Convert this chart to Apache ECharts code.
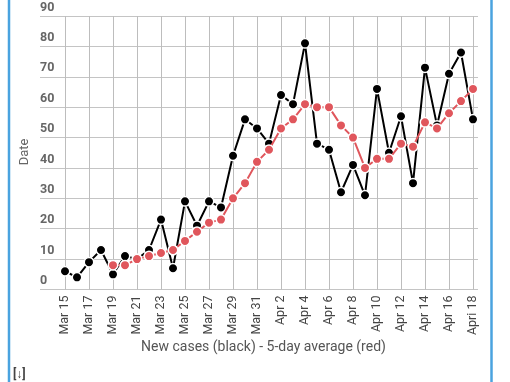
<!DOCTYPE html>
<html>
<head>
<meta charset="utf-8">
<script src="https://cdn.jsdelivr.net/npm/echarts@6/dist/echarts.min.js"></script>
<style>
html,body{margin:0;padding:0;background:#fff;}
#c{width:510px;height:382px;}
</style>
</head>
<body>
<div id="c"></div>
<script>
var dates = ["Mar 15","Mar 16","Mar 17","Mar 18","Mar 19","Mar 20","Mar 21","Mar 22","Mar 23","Mar 24",
  "Mar 25","Mar 26","Mar 27","Mar 28","Mar 29","Mar 30","Mar 31","Apr 1","Apr 2","Apr 3",
  "Apr 4","Apr 5","Apr 6","Apr 7","Apr 8","Apr 9","Apr 10","Apr 11","Apr 12","Apr 13",
  "Apr 14","Apr 15","Apr 16","Apr 17","Apri 18"];
var newCases = [6,4,9,13,5,11,10,13,23,7,
  29,21,29,27,44,56,53,48,64,61,
  81,48,46,32,41,31,66,45,57,35,
  73,54,71,78,56];
var avg5 = [null,null,null,null,8,8,10,11,12,13,
  16,19,22,23,30,35,42,46,53,56,
  61,60,60,54,50,40,43,43,48,47,
  55,53,58,62,66];
var yTicks = [0,10,20,30,40,50,60,70,80,90];
var xTitle = "New cases (black) - 5-day average (red)";
var yTitle = "Date";

var chart = echarts.init(document.getElementById('c'), null, {renderer:'canvas'});
var font = 'Roboto, "Noto Sans", sans-serif';
var option = {
  animation: false,
  backgroundColor: '#fff',
  grid: [
    {left: 40, right: 32, top: 16, bottom: 92.5},
    {left: 65, right: 37, top: 16, bottom: 92.5}
  ],
  xAxis: [
    {gridIndex: 0, type: 'value', min: 0, max: 1, show: false},
    {gridIndex: 1, type: 'category', data: dates, boundaryGap: false,
     axisLine: {show: false}, axisTick: {show: false},
     splitLine: {show: true, interval: 1, lineStyle: {color: '#bdbdbd', width: 1}},
     axisLabel: {interval: 1, rotate: 90, margin: 6, color: '#444', fontSize: 12.5, fontFamily: font}
    }
  ],
  yAxis: [
    {gridIndex: 0, type: 'value', min: 0, max: 90, interval: 10,
     axisLine: {show: false}, axisTick: {show: false},
     splitLine: {show: true, lineStyle: {color: '#c4c4c4', width: 1}},
     axisLabel: {inside: true, margin: 0, verticalAlign: 'bottom', padding: [0,0,2,0],
       color: '#666', fontWeight: 'bold', fontSize: 12.5, fontFamily: font,
       formatter: function(v){ return yTicks.indexOf(v) >= 0 ? String(v) : ''; }}
    },
    {gridIndex: 1, type: 'value', min: 0, max: 90, interval: 10, show: false}
  ],
  graphic: [
    {type: 'line', shape: {x1: 9, y1: 0, x2: 9, y2: 382}, style: {stroke: '#4aa3df', lineWidth: 2.5}},
    {type: 'line', shape: {x1: 491.5, y1: 0, x2: 491.5, y2: 382}, style: {stroke: '#4aa3df', lineWidth: 2.5}},
    {type: 'text', x: 263.5, y: 347, style: {text: xTitle, fill: '#555', font: '14px ' + font, textAlign: 'center', textVerticalAlign: 'middle'}},
    {type: 'text', x: 25, y: 152, rotation: Math.PI/2, style: {text: yTitle, fill: '#666', font: '13px ' + font, textAlign: 'center', textVerticalAlign: 'middle'}},
    {type: 'text', x: 13, y: 375, style: {text: '[\u2193]', fill: '#444', font: 'bold 12px ' + font, textAlign: 'left', textVerticalAlign: 'middle'}}
  ],
  series: [
    {type: 'line', xAxisIndex: 1, yAxisIndex: 1, data: newCases, z: 3,
     symbol: 'circle', symbolSize: 9.5, showSymbol: true, showAllSymbol: true,
     lineStyle: {color: '#000', width: 2},
     itemStyle: {color: '#000', borderColor: '#fff', borderWidth: 1.5}},
    {type: 'line', xAxisIndex: 1, yAxisIndex: 1, data: avg5, z: 4,
     symbol: 'circle', symbolSize: 9.5, showSymbol: true, showAllSymbol: true, connectNulls: false,
     lineStyle: {color: '#e0565c', width: 2},
     itemStyle: {color: '#e0565c', borderColor: '#fff', borderWidth: 1.5}}
  ]
};
chart.setOption(option);
</script>
</body>
</html>
